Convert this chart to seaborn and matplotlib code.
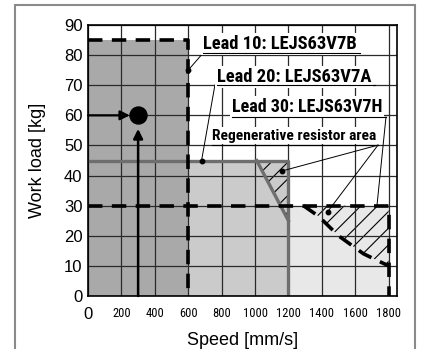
import matplotlib
matplotlib.use("Agg")
import matplotlib.pyplot as plt
from matplotlib import font_manager
from matplotlib.font_manager import FontProperties
from matplotlib.patches import Rectangle
import seaborn as sns
import pandas as pd

# ---------------- data ----------------
x_ticks = [0, 200, 400, 600, 800, 1000, 1200, 1400, 1600, 1800]
y_ticks = [0, 10, 20, 30, 40, 50, 60, 70, 80, 90]

lead10_speed = [0, 600, 600]
lead10_load = [85, 85, 0]

lead20_speed = [0, 1200, 1200]
lead20_load = [45, 45, 0]
lead20_regen_speed = [1010, 1200]
lead20_regen_load = [45, 25]

lead30_speed = [0, 1800, 1800]
lead30_load = [30, 30, 0]
lead30_regen_speed = [1290, 1380, 1500, 1650, 1800]
lead30_regen_load = [30, 26.5, 20, 14, 10]

example_speed = 300
example_load = 60

labels = ["Lead 10: LEJS63V7B", "Lead 20: LEJS63V7A", "Lead 30: LEJS63V7H",
          "Regenerative resistor area"]

# ---------------- fonts ----------------
REG = "Liberation Sans"
pref = ["Liberation Sans Narrow", "Roboto Condensed", "Noto Sans", "Open Sans",
        "Roboto", "Liberation Sans"]
narrow_stretch = ("condensed", "semi-condensed", "extra-condensed", "ultra-condensed")


def pick(bold):
    best = None
    for f in font_manager.fontManager.ttflist:
        nm = f.name
        is_narrow = (f.stretch in narrow_stretch) or ("Narrow" in nm) or ("Condensed" in nm)
        if not is_narrow or nm.startswith("DejaVu"):
            continue
        w = f.weight if isinstance(f.weight, int) else (700 if "bold" in str(f.weight).lower() else 400)
        if bold != (w >= 600) or f.style != "normal":
            continue
        if bold and w > 750:
            continue
        rank = pref.index(nm) if nm in pref else len(pref)
        if best is None or rank < best[0]:
            best = (rank, f.fname)
    return best[1] if best else None


nb = pick(True)
nr = pick(False)
FP_BOLD = FontProperties(fname=nb) if nb else FontProperties(family=REG, weight="bold")
FP_NARROW = FontProperties(fname=nr) if nr else FontProperties(family=REG)

plt.rcParams["hatch.linewidth"] = 0.8

fig = plt.figure(figsize=(4.22, 3.49), dpi=100)
ax = fig.add_axes([88 / 422, 1 - 296 / 349, 309 / 422, 271 / 349])

# outer frame
fig.patches.append(Rectangle((15 / 422, -0.05), 400 / 422, 1.05 - 5 / 349,
                             transform=fig.transFigure, fill=False,
                             edgecolor="#8a8a8a", lw=1.5, zorder=0))

# region fills
ax.fill_between(lead10_speed[:2], [lead10_load[0]] * 2, 0, color="#a9a9a9", lw=0, zorder=0.1)
ax.fill_between([lead10_speed[1], lead20_speed[1]], [lead20_load[0]] * 2, 0, color="#cbcbcb", lw=0, zorder=0.1)
ax.fill_between([lead20_speed[1], lead30_speed[1]], [lead30_load[0]] * 2, 0, color="#e8e8e8", lw=0, zorder=0.1)

# hatched regenerative areas
ax.fill_between(lead20_regen_speed, lead20_regen_load, [lead20_load[0]] * 2,
                facecolor="none", edgecolor="k", hatch="//", lw=0, zorder=0.3)
ax.fill_between(lead30_regen_speed, lead30_regen_load, [lead30_load[0]] * len(lead30_regen_speed),
                facecolor="none", edgecolor="k", hatch="//", lw=0, zorder=0.3)

ax.set_axisbelow(True)
ax.grid(True, color="#2a2a2a", lw=0.9)

dash = (4, 2.6)


def line(xs, ys, **kw):
    df = pd.DataFrame({"x": xs, "y": ys})
    sns.lineplot(data=df, x="x", y="y", sort=False, estimator=None, ax=ax, **kw)


# Lead 20 (gray solid)
line(lead20_speed, lead20_load, color="#6e6e6e", lw=2.4, zorder=3)
line(lead20_regen_speed, lead20_regen_load, color="#6e6e6e", lw=2.4, zorder=3)
# Lead 10 & 30 (black dashed)
line(lead10_speed, lead10_load, color="k", lw=2.6, dashes=dash, zorder=4)
line(lead30_speed, lead30_load, color="k", lw=2.6, dashes=dash, zorder=4)
line(lead30_regen_speed, lead30_regen_load, color="k", lw=2.6, dashes=dash, zorder=4)

# example point with arrows
ax.annotate("", xy=(example_speed - 50, example_load), xytext=(0, example_load),
            arrowprops=dict(arrowstyle="-|>", color="k", lw=1.6, mutation_scale=14,
                            shrinkA=0, shrinkB=0), zorder=5)
ax.annotate("", xy=(example_speed, example_load - 4.5), xytext=(example_speed, 0),
            arrowprops=dict(arrowstyle="-|>", color="k", lw=1.8, mutation_scale=14,
                            shrinkA=0, shrinkB=0), zorder=5)
sns.scatterplot(x=[example_speed], y=[example_load], s=150, color="k", edgecolor="k",
                ax=ax, zorder=6)

# ---------------- annotations ----------------
fit_list = []


def label(text, x0, yc, x1, yu, size, target_px):
    t = ax.text(x0, yc, text, fontproperties=FP_BOLD.copy(), fontsize=size,
                va="center", ha="left", zorder=8,
                bbox=dict(facecolor="white", edgecolor="none", pad=1.2))
    if not nb:
        t.set_fontweight("bold")
    ax.plot([x0, x1], [yu, yu], color="k", lw=0.8, zorder=8)
    fit_list.append((t, target_px, 7, 14))


def leader(x0, y0, x1, y1, dot=True):
    ax.plot([x0, x1], [y0, y1], color="k", lw=0.7, zorder=7)
    if dot:
        ax.plot([x1], [y1], "o", color="k", ms=3.2, zorder=7)


label(labels[0], 689, 83.6, 1628, 80.7, 12, 154)
leader(689, 80.7, lead10_speed[1], 75)
label(labels[1], 772, 72.8, 1718, 70.1, 12, 155)
leader(760, 70.1, 680, lead20_load[0])
label(labels[2], 862, 62.8, 1784, 59.4, 12, 151)
leader(1784, 59.4, 1730, lead30_load[0], dot=False)
label(labels[3], 742, 53.3, 1736, 50.1, 10, 164)
leader(1736, 50.1, 1160, 41.5)
leader(1736, 50.1, 1435, 28)

# ---------------- axes ----------------
ax.set_xlim(0, 1850)
ax.set_ylim(0, 90)
ax.set_xticks(x_ticks)
ax.set_yticks(y_ticks)
ax.set_xticklabels([str(v) for v in x_ticks])
for i, tl in enumerate(ax.get_xticklabels()):
    if i == 0:
        tl.set_fontfamily(REG)
        tl.set_fontsize(12)
    else:
        tl.set_fontproperties(FP_NARROW.copy())
        tl.set_fontsize(10)
        fit_list.append((tl, 18 if len(tl.get_text()) == 4 else 15, 9, 12))
ax.set_yticklabels([str(v) for v in y_ticks], family=REG, fontsize=12)
ax.tick_params(axis="both", length=0)
ax.tick_params(axis="x", pad=8)
ax.tick_params(axis="y", pad=4)
for s in ax.spines.values():
    s.set_color("k")
    s.set_linewidth(1.2)
    s.set_zorder(9)

ax.set_xlabel("Speed [mm/s]", family=REG, fontsize=13, labelpad=7)
ax.set_ylabel("Work load [kg]", family=REG, fontsize=13, labelpad=13)

# fit text widths to the reference
fig.canvas.draw()
r = fig.canvas.get_renderer()
for t, target, lo, hi in fit_list:
    w = t.get_window_extent(r).width
    if w > 0:
        t.set_fontsize(min(hi, max(lo, t.get_fontsize() * target / w)))

fig.savefig("out.png", dpi=100)
